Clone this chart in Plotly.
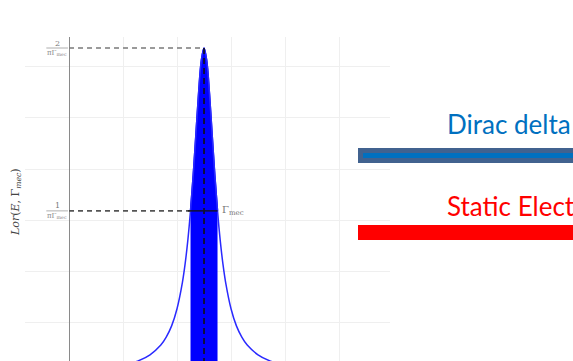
import plotly.graph_objects as go

# ---- data ----
E0 = 2.5          # peak position
GAMMA = 0.5       # FWHM
PEAK = 1.273      # 2/(pi*Gamma)
HALF = 0.637      # 1/(pi*Gamma)

curve_E = [-0.8, -0.5, 0.0, 0.5, 1.0, 1.3, 1.5, 1.7, 1.8, 1.9, 2.0, 2.1, 2.15, 2.2,
           2.25, 2.3, 2.35, 2.4, 2.45, 2.5, 2.55, 2.6, 2.65, 2.7, 2.75, 2.8, 2.85,
           2.9, 3.0, 3.1, 3.2, 3.3, 3.5, 3.7, 4.0, 4.5, 5.0, 5.5, 5.95]
curve_L = [0.0072, 0.0088, 0.0126, 0.020, 0.034, 0.053, 0.075, 0.113, 0.144, 0.188,
           0.255, 0.358, 0.430, 0.522, 0.637, 0.776, 0.936, 1.098, 1.224, 1.273,
           1.224, 1.098, 0.936, 0.776, 0.637, 0.522, 0.430, 0.358, 0.255, 0.188,
           0.144, 0.113, 0.075, 0.053, 0.034, 0.020, 0.0126, 0.0088, 0.0067]

band_E = [2.25, 2.3, 2.35, 2.4, 2.45, 2.5, 2.55, 2.6, 2.65, 2.7, 2.75]
band_L = [0.637, 0.776, 0.936, 1.098, 1.224, 1.273, 1.224, 1.098, 0.936, 0.776, 0.637]

legend_labels = ["Dirac delta", "Static Elect"]
legend_colors = ["#0070C0", "#FF0000"]

W, H = 573, 361
L_M, R_M, T_M, B_M = 25, 573 - 390, 37, 0

def px(x):
    return (x - L_M) / (W - L_M - R_M)

def py(y):
    return (H - B_M - y) / (H - T_M - B_M)

fig = go.Figure()

# filled band between E0 +/- Gamma/2
fig.add_trace(go.Scatter(x=band_E, y=band_L, mode="lines", line=dict(color="#0000FF", width=1.5, shape="spline"),
                         fill="tozeroy", fillcolor="#0000FF", hoverinfo="skip", showlegend=False))
# Lorentzian curve
fig.add_trace(go.Scatter(x=curve_E, y=curve_L, mode="lines", line=dict(color="#2a2aff", width=1.5, shape="spline"),
                         hoverinfo="skip", showlegend=False))
# horizontal dashed line at peak
fig.add_trace(go.Scatter(x=[0, E0], y=[PEAK, PEAK], mode="lines",
                         line=dict(color="#7a7a7a", width=1.6, dash="5px,4px"), showlegend=False))
# horizontal dashed line at half maximum
fig.add_trace(go.Scatter(x=[0, E0 - GAMMA / 2], y=[HALF, HALF], mode="lines",
                         line=dict(color="#555555", width=1.6, dash="5px,4px"), showlegend=False))
# FWHM solid line
fig.add_trace(go.Scatter(x=[E0 - GAMMA / 2 - 0.05, E0 + GAMMA / 2], y=[HALF, HALF], mode="lines",
                         line=dict(color="#111111", width=1.3), showlegend=False))
# vertical dashed line at peak
fig.add_trace(go.Scatter(x=[E0, E0], y=[PEAK, 0], mode="lines",
                         line=dict(color="#101030", width=1.8, dash="6px,4px"), showlegend=False))

serif = "DejaVu Serif, Liberation Serif, serif"
ann = []
# fraction labels on y axis
for val, num in [(PEAK, "2"), (HALF, "1")]:
    ann.append(dict(x=-0.22, y=val, xref="x", yref="y", text=num, showarrow=False,
                    yshift=5, font=dict(family=serif, size=8, color="#777777")))
    ann.append(dict(x=-0.22, y=val, xref="x", yref="y", text="πΓ<sub>mec</sub>", showarrow=False,
                    yshift=-5, font=dict(family=serif, size=7, color="#888888")))
# Gamma label
ann.append(dict(x=E0 + GAMMA / 2 + 0.05, y=HALF, xref="x", yref="y", text="Γ<sub>mec</sub>", showarrow=False,
                xanchor="left", font=dict(family=serif, size=10, color="#777777")))
# y-axis title
ann.append(dict(x=px(16), y=py(202), xref="paper", yref="paper", text="<i>Lor</i>(<i>E</i>, Γ<sub><i>mec</i></sub>)",
                showarrow=False, textangle=-90, xanchor="center", yanchor="middle",
                font=dict(family=serif, size=11, color="#444444")))
# right side labels
for lab, col, ty in zip(legend_labels, legend_colors, [124, 206]):
    ann.append(dict(x=px(445), y=py(ty), xref="paper", yref="paper", text=lab, showarrow=False,
                    xanchor="left", yanchor="middle", font=dict(family="Lato, Open Sans, sans-serif", size=26, color=col)))

shapes = []
for val in [PEAK, HALF]:
    shapes.append(dict(type="line", xref="x", yref="y", x0=-0.42, x1=-0.02, y0=val, y1=val,
                       line=dict(color="#999999", width=0.8)))
# blue bar
shapes.append(dict(type="rect", xref="paper", yref="paper", x0=px(358), x1=px(590), y0=py(163), y1=py(148),
                   fillcolor="#41628f", line=dict(width=0), layer="above"))
shapes.append(dict(type="rect", xref="paper", yref="paper", x0=px(363), x1=px(590), y0=py(158), y1=py(153),
                   fillcolor="#0070C0", line=dict(width=0), layer="above"))
# red bar
shapes.append(dict(type="rect", xref="paper", yref="paper", x0=px(358), x1=px(590), y0=py(240), y1=py(225),
                   fillcolor="#FF0000", line=dict(width=0), layer="above"))

fig.update_layout(
    width=W, height=H, margin=dict(l=L_M, r=R_M, t=T_M, b=B_M, pad=0),
    plot_bgcolor="white", paper_bgcolor="white",
    annotations=ann, shapes=shapes, showlegend=False,
    xaxis=dict(range=[-0.815, 5.944], dtick=1, tick0=0, showgrid=True, gridcolor="#efefef", gridwidth=1,
               zeroline=True, zerolinecolor="#8a8a8a", zerolinewidth=1, showticklabels=False, ticks="",
               showline=False),
    yaxis=dict(range=[0.0508, 1.316], dtick=0.2, tick0=0, showgrid=True, gridcolor="#efefef", gridwidth=1,
               zeroline=False, showticklabels=False, ticks="", showline=False),
)

fig.write_html("out.html", config={"displayModeBar": False},
               post_script="document.body.style.margin='0px';document.body.style.overflow='hidden';")
